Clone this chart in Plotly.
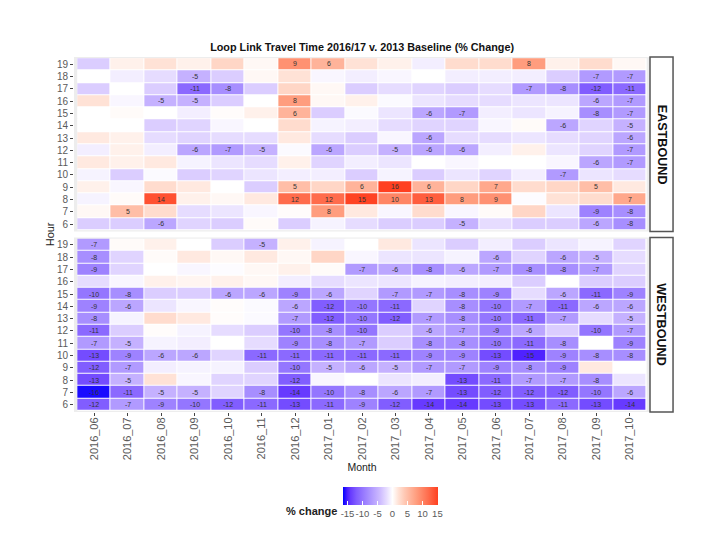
# plot.py
# Loop Link travel time heatmap, eastbound and westbound panels.

import plotly.graph_objects as go
from plotly.subplots import make_subplots

months = ["2016_06", "2016_07", "2016_08", "2016_09", "2016_10", "2016_11", "2016_12",
          "2017_01", "2017_02", "2017_03", "2017_04", "2017_05", "2017_06", "2017_07",
          "2017_08", "2017_09", "2017_10"]
hours = [19, 18, 17, 16, 15, 14, 13, 12, 11, 10, 9, 8, 7, 6]

eastbound = [
    [-3, 1, 2, 1, 3, 0.5, 9, 6, 2, 1, -1, 2.5, 2.5, 8, 1, 2.5, 0.5],
    [0, -1, -2, -5, -3, 0.5, 2, -0.5, -1, -0.5, 0, -1, -1, -1, -3, -7, -7],
    [-3, 0, -3, -11, -8, -3, 3, 0.5, -3, -2, -2.5, -3, -2, -7, -8, -12, -11],
    [2, -0.5, -5, -5, -3, 0, 8, 0.5, 1, -0.3, -1.5, -2, -2, -1.5, -1.5, -6, -7],
    [0, 0.3, 0, -1, 0.2, 1, 6, -3, -0.3, -1.5, -6, -7, -1, -1.5, -0.7, -8, -7],
    [0, 0, -3, -2.5, -0.5, 0, 2.5, -0.7, -1, -2, -2.5, -2.5, -0.5, 0.3, -6, -2.5, -5],
    [1.5, 1, -2, -2.5, -2, -2, 1.5, -2, -3, -0.5, -6, -2, -2, -1.5, -2, -2.5, -6],
    [-1, 1, -1, -6, -7, -5, -0.3, -6, -3, -5, -6, -6, -1, 1, -1.5, -2.5, -7],
    [1.5, 1, 1.5, -0.7, -1.5, -2, 1, -2.5, -1, -1.5, 0, -0.5, 0, 0, -0.5, -6, -7],
    [-0.7, -3, -0.3, -3, -2.5, -1.5, -1, -1, -3, -0.7, -3, -1.5, -2.5, -1, -7, -1.5, -2],
    [1, -0.5, 2.5, 1.5, 0, -3, 5, 3, 6, 16, 6, 3, 7, 2.5, 3, 5, 1.5],
    [-0.7, 0.3, 14, 1, 0.5, 1.5, 12, 12, 15, 10, 13, 8, 9, -0.2, 2, 2.5, 7],
    [0.5, 5, 2.5, -2, -1.5, -0.5, 0.2, 8, 1.5, -0.5, 2.5, -0.5, 0.3, 3, -1.5, -9, -8],
    [-3, -3, -6, -2.5, -3, 0.3, -3, -0.7, -2, -3, -3, -5, -2, -3, -3, -6, -8],
]
westbound = [
    [-7, 0.3, 1, 0, -3, -5, 1, -0.7, 0, 1.5, -1.5, -3, -1, -3, -1.5, -0.7, -2.5],
    [-8, -2.5, 0.3, 1.5, 0.5, 1.5, 0.5, 3, -0.5, -1.5, -1.5, -0.7, -6, -2.5, -6, -5, -2],
    [-9, -2.5, 0, -0.5, -0.2, 0.5, 1, 0.3, -7, -6, -8, -6, -7, -8, -8, -7, -2.5],
    [-2, -0.5, 1, 0.7, 1, 0.5, -1, -2, -1.5, -1.5, -0.7, -1, -1, -3, 0, -3, -3],
    [-10, -8, -3, -3, -6, -6, -9, -6, -2.5, -7, -7, -8, -9, -2, -6, -11, -9],
    [-9, -6, -1.5, -0.5, 0.2, -0.3, -6, -12, -10, -11, -2.5, -8, -10, -7, -11, -6, -6],
    [-8, -0.7, 2.5, 1.5, 0.2, -0.3, -7, -12, -10, -12, -7, -8, -10, -11, -7, -2, -5],
    [-11, -3, 0.2, -0.7, -2, -3, -10, -8, -10, -3, -6, -7, -9, -6, -3, -10, -7],
    [-7, -5, -0.7, -1, 0, -2, -9, -8, -7, -3, -8, -8, -10, -11, -8, 0, -9],
    [-13, -9, -6, -6, -2.5, -11, -11, -11, -11, -11, -9, -9, -13, -15, -9, -8, -8],
    [-12, -7, -1, -0.7, -0.7, -3, -10, -5, -6, -5, -7, -7, -9, -8, -9, 1.5, 0],
    [-13, -5, 2, -0.5, -2.5, -2.5, -12, -0.5, 0, -1.5, -1, -13, -11, -7, -7, -8, -1.5],
    [-16, -11, -5, -5, -2.5, -8, -14, -10, -8, -6, -7, -13, -12, -12, -12, -10, -6],
    [-12, -7, -9, -10, -12, -11, -13, -11, -9, -12, -14, -14, -13, -13, -11, -13, -14],
]
directions = ["EASTBOUND", "WESTBOUND"]

# colour stops, as (value, colour)
scale_values = [-16.5, -15, -14, -12, -8, -4, -2, 0, 2, 4, 8, 12, 15.2]
scale_colors = ["#0000ff", "#4f22ff", "#673aff", "#815dff", "#a78eff", "#cfbdff", "#e6dcff", "#ffffff",
                "#ffe2d6", "#ffc9b5", "#ff9d7e", "#ff6c4c", "#ff4020"]
legend_ticks = [-15, -10, -5, 0, 5, 10, 15]
legend_labels = ["-15", "-10", "-5", "0", "5", "10", "15"]

GREY_TEXT = "#5a5a5a"
zmin, zmax = scale_values[0], scale_values[-1]
colorscale = [[(v - zmin) / (zmax - zmin), c] for v, c in zip(scale_values, scale_colors)]


def cell_labels(rows):
    """Only changes of 5% or more get a number in the tile."""
    return [[str(round(v)) if abs(round(v)) >= 5 else "" for v in row] for row in rows]


fig = make_subplots(rows=2, cols=1, shared_xaxes=True, vertical_spacing=0.017)

for i, rows in enumerate([eastbound, westbound], start=1):
    fig.add_trace(
        go.Heatmap(
            x=months, y=hours, z=rows, text=cell_labels(rows), texttemplate="%{text}",
            textfont=dict(size=7, color="#333333"), coloraxis="coloraxis",
            xgap=1, ygap=1, hoverinfo="skip",
        ),
        row=i, col=1,
    )
    yname = "y" if i == 1 else f"y{i}"
    # grey panel showing at the edges, white behind the tiles
    fig.add_shape(type="rect", xref="x domain", yref=f"{yname} domain", x0=0, x1=1, y0=0, y1=1,
                  fillcolor="#ededed", line_width=0, layer="below")
    fig.add_shape(type="rect", xref=f"x{'' if i == 1 else i}", yref=yname,
                  x0=-0.5, x1=len(months) - 0.5, y0=min(hours) - 0.5, y1=max(hours) + 0.5,
                  fillcolor="white", line_width=0, layer="below")
    # strip on the right
    fig.add_shape(type="rect", xref="paper", yref=f"{yname} domain", x0=1.0, x1=1.04, y0=0, y1=1,
                  fillcolor="white", line=dict(color="#555555", width=1.5))
    fig.add_annotation(xref="paper", yref=f"{yname} domain", x=1.02, y=0.5, text=f"<b>{directions[i-1]}</b>",
                       textangle=90, showarrow=False, xanchor="center", yanchor="middle",
                       font=dict(size=12.6, color="#111111"))

fig.update_xaxes(
    type="category", categoryorder="array", categoryarray=months, range=[-0.6, len(months) - 0.4],
    showgrid=False, zeroline=False, showline=False, ticks="outside", ticklen=3, tickcolor="#444444",
    tickangle=-90, tickfont=dict(size=11, color=GREY_TEXT), ticklabelstandoff=-3,
)
fig.update_xaxes(ticks="", row=1, col=1)
fig.update_xaxes(title=dict(text="Month", font=dict(size=10.5, color="#222222"), standoff=4), row=2, col=1)
fig.update_yaxes(
    tickmode="array", tickvals=hours, range=[min(hours) - 0.6, max(hours) + 0.6],
    showgrid=False, zeroline=False, showline=False, ticks="outside", ticklen=3, tickcolor="#444444",
    tickfont=dict(size=10, color=GREY_TEXT),
)

fig.add_annotation(xref="paper", yref="paper", x=-0.042, y=0.5, text="Hour", textangle=-90,
                   showarrow=False, xanchor="center", yanchor="middle", font=dict(size=11, color="#222222"))
fig.add_annotation(xref="paper", yref="paper", x=0.4595, y=-0.28, text="<b>% change</b>",
                   showarrow=False, xanchor="right", yanchor="middle", font=dict(size=11, color="#222222"))

fig.update_layout(
    width=710, height=548,
    margin=dict(l=74, r=60, t=57, b=136),
    font=dict(family="Liberation Sans, Arial, sans-serif"),
    paper_bgcolor="white", plot_bgcolor="white",
    title=dict(text="<b>Loop Link Travel Time 2016/17 v. 2013 Baseline (% Change)</b>",
               x=0.51, xanchor="center", y=0.914, yanchor="middle",
               font=dict(size=10.8, color="#111111")),
    coloraxis=dict(
        colorscale=colorscale, cmin=zmin, cmax=zmax,
        colorbar=dict(
            orientation="h", lenmode="pixels", len=95, thicknessmode="pixels", thickness=18,
            x=0.467, xanchor="left", xref="paper", y=-0.212, yanchor="top", yref="paper",
            tickmode="array", tickvals=legend_ticks, ticktext=legend_labels, ticks="inside",
            ticklen=4, tickcolor="white",
            tickangle=0, tickfont=dict(size=9.5, color=GREY_TEXT), outlinewidth=0, xpad=0, ypad=0,
        ),
    ),
)

fig.write_html("out.html", config={"displayModeBar": False},
               post_script="document.body.style.margin='0';")
